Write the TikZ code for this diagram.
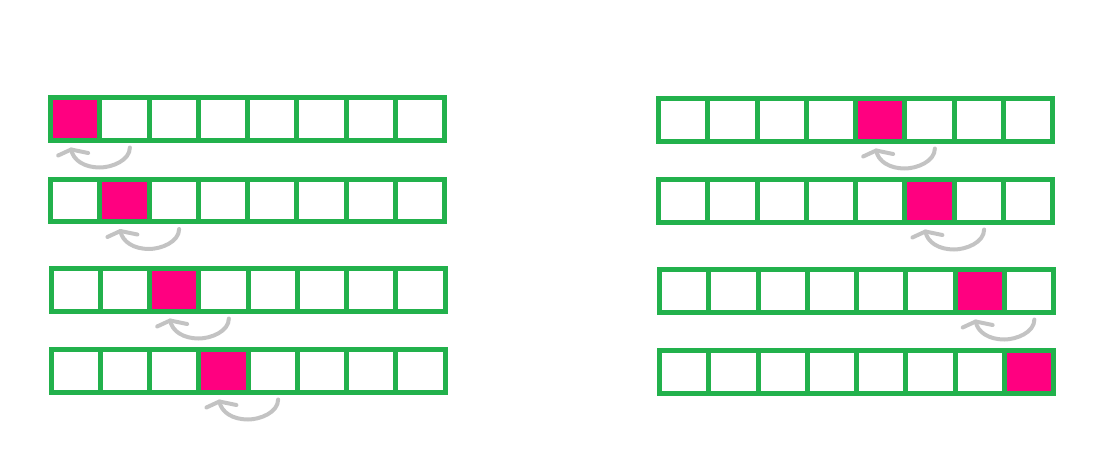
\documentclass[tikz,border=0pt]{standalone}
\usetikzlibrary{calc}
\definecolor{cellgreen}{RGB}{34,177,76}
\definecolor{hotpink}{RGB}{255,0,128}
\definecolor{arrowgrey}{RGB}{195,195,195}
\begin{document}
\begin{tikzpicture}[x=1pt,y=-1pt,
  cell/.style={draw=cellgreen, line width=5pt, rectangle, minimum width=49.25pt,
    minimum height=42.5pt, inner sep=0pt, outer sep=0pt, anchor=north west},
  hot/.style={fill=hotpink},
  mover/.style={draw=arrowgrey, line width=4pt, line cap=round, line join=round}]
\useasboundingbox (0,0) rectangle (1102,458);
\foreach \r/\x/\y/\k in {L1/50.5/97.5/0, L2/50.5/179/1, L3/51/268.5/2, L4/51/349.5/3,
                         R1/658.5/98.5/4, R2/658.5/179.5/5, R3/659.5/269.5/6, R4/659.5/350.5/7}{
  \foreach \i in {0,...,7}{
    \ifnum\i=\k
      \node[cell,hot] (\r-\i) at ({\x+\i*49.25},\y) {};
    \else
      \node[cell] (\r-\i) at ({\x+\i*49.25},\y) {};
    \fi
  }
  \ifnum\k<7
    \pgfmathtruncatemacro\n{\k+1}
    \coordinate (s-\r) at ($(\r-\n.south)+(5.5,7.5)$);
    \coordinate (b-\r) at ($(\r-\k.south east)+(0,27.5)$);
    \coordinate (t-\r) at ($(\r-\k.south)+(-4,9.5)$);
    \draw[mover] (s-\r) .. controls ($(s-\r)+(0,13)$) and ($(b-\r)+(12,0)$) .. (b-\r)
      .. controls ($(b-\r)+(-15,0)$) and ($(t-\r)+(2,11)$) .. (t-\r);
    \draw[mover] ($(t-\r)+(-13,6)$) -- (t-\r) -- ($(t-\r)+(17,3.5)$);
  \fi
}
\end{tikzpicture}
\end{document}
